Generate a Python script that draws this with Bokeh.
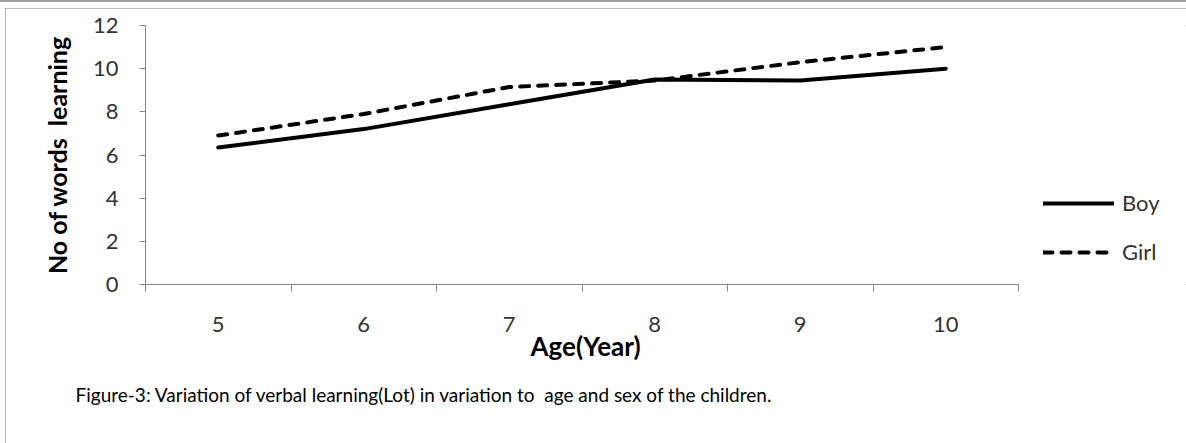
from bokeh.plotting import figure
from bokeh.models import (Range1d, LinearAxis, FixedTicker, Legend, LegendItem, Title)
from bokeh.embed import file_html
from bokeh.resources import INLINE

ages = ["5", "6", "7", "8", "9", "10"]
boy = [6.35, 7.2, 8.35, 9.5, 9.45, 10.0]
girl = [6.9, 7.9, 9.15, 9.45, 10.3, 11.0]
y_ticks = [0, 2, 4, 6, 8, 10, 12]
y_label = "No of words\u00a0 learning"
x_label = "Age(Year)"
caption_text = "Figure-3: Variation of verbal learning(Lot) in variation to\u00a0 age and sex of the children."

FONT = "Lato"
AXIS_GRAY = "#868686"

W, H = 1181, 435
LEFT, TOP, FRAME_H = 140, 17, 259
AXIS_PX = 873  # pixel length of the category axis

n = len(ages)
# category slots: centre of slot i is at i + 0.5
xpos = [i + 0.5 for i in range(n)]
# frame runs to the right edge (legend lives there); axis itself spans slots 0..n
x_end = n * (W - LEFT) / AXIS_PX

p = figure(x_range=Range1d(0, x_end), y_range=Range1d(0, 12),
           width=W, height=H, output_backend="svg", toolbar_location=None,
           x_axis_location=None, min_border_left=LEFT, min_border_right=0,
           min_border_top=TOP, min_border_bottom=H - TOP - FRAME_H)
p.outline_line_color = None
p.xgrid.visible = False
p.ygrid.visible = False
p.background_fill_color = "white"
p.border_fill_color = "white"
p.styles = {"margin-left": "5px", "margin-top": "8px",
            "outline": "2px solid #a0a0a0", "outline-offset": "-2px",
            "box-shadow": "0 -1px 0 5px white, 0 -3px 0 5px #a0a0a0"}

# y axis
ya = p.yaxis[0]
ya.ticker = FixedTicker(ticks=y_ticks)
ya.axis_line_color = AXIS_GRAY
ya.major_tick_line_color = AXIS_GRAY
ya.major_tick_out = 6
ya.major_tick_in = 0
ya.minor_tick_line_color = None
ya.major_label_text_font = FONT
ya.major_label_text_font_size = "22px"
ya.major_label_text_color = "#333333"
ya.major_label_standoff = 21
ya.axis_label = y_label
ya.axis_label_text_font = FONT
ya.axis_label_text_font_style = "bold"
ya.axis_label_text_font_size = "25px"
ya.axis_label_text_color = "black"
ya.axis_label_standoff = 18

# x axis: ticks at category boundaries
tick_axis = LinearAxis(ticker=FixedTicker(ticks=list(range(n + 1))), bounds=(0, n),
                       axis_line_color=AXIS_GRAY, major_tick_line_color=AXIS_GRAY,
                       major_tick_out=7, major_tick_in=0, minor_tick_line_color=None,
                       major_label_text_font_size="0px", major_label_standoff=0)
p.add_layout(tick_axis, "below")

# x axis: category labels at slot centres
cat_axis = LinearAxis(ticker=FixedTicker(ticks=xpos), bounds=(0, n),
                      major_label_overrides={x: a for x, a in zip(xpos, ages)},
                      axis_line_color=None, major_tick_line_color=None,
                      minor_tick_line_color=None,
                      major_tick_out=0, major_tick_in=0,
                      major_label_text_font=FONT, major_label_text_font_size="22px",
                      major_label_text_color="#333333", major_label_standoff=25)
p.add_layout(cat_axis, "below")

# x axis title, placed under the axis span (not the whole frame)
x_title = Title(text=x_label, align="left", offset=385, standoff=-14,
                text_font=FONT, text_font_size="26px", text_font_style="bold",
                text_color="black")
p.add_layout(x_title, "below")

caption = Title(text=caption_text, align="left", offset=-70, standoff=53,
                text_font=FONT, text_font_size="19px", text_font_style="normal",
                text_color="black")
p.add_layout(caption, "below")

r_boy = p.line(x=xpos, y=boy, line_color="black", line_width=4, line_cap="round")
r_girl = p.line(x=xpos, y=girl, line_color="black", line_width=4, line_dash="9 9",
                line_cap="round")

legend = Legend(items=[LegendItem(label="Boy", renderers=[r_boy]),
                       LegendItem(label="Girl", renderers=[r_girl])],
                location=(898, 19), padding=0, margin=0, spacing=22,
                glyph_width=71, glyph_height=26, label_height=26, label_standoff=8,
                border_line_color=None, background_fill_alpha=0,
                label_text_font=FONT, label_text_font_size="22px", label_text_color="#333333")
p.add_layout(legend, "center")

open("out.html", "w").write(file_html(p, INLINE))
